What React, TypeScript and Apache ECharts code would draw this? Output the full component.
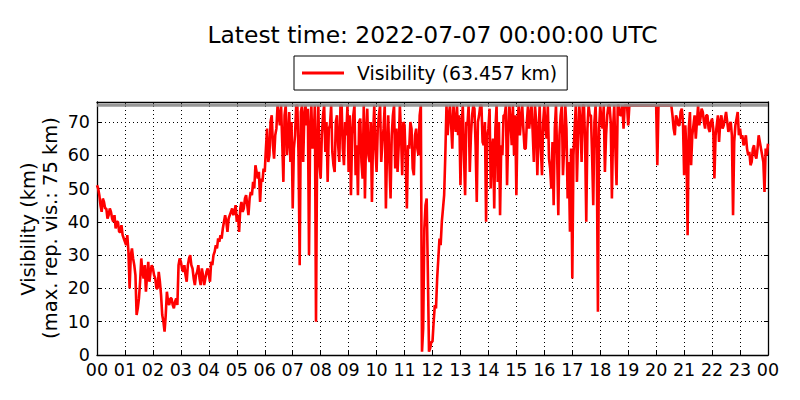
import React, { useEffect, useRef } from "react";
import * as echarts from "echarts";

const titleText = "Latest time: 2022-07-07 00:00:00 UTC";
const seriesName = "Visibility (63.457 km)";
const yNameLine1 = "Visibility (km)";
const yNameLine2 = "(max. rep. vis.: 75 km)";
const maxReported = 75;
const stepMinutes = 2.5;

// one value every 2.5 minutes, one row per hour (00 .. 23), last value = 24:00
const visibility = [
  51, 50, 48, 45, 43, 47, 46, 44, 44, 41, 42, 44, 43, 41, 40, 42, 38, 40, 40, 37, 37, 39, 36, 35,
  34, 33, 36, 31, 20, 30, 32, 29, 27, 24, 12, 14, 17, 22, 29, 25, 23, 27, 19, 24, 28, 22, 25, 27,
  26, 24, 23, 20, 20, 25, 22, 18, 12, 10, 7, 12, 19, 16, 15, 17, 17, 15, 14, 16, 17, 15, 27, 29,
  28, 26, 25, 27, 24, 22, 27, 29, 30, 27, 26, 23, 21, 24, 25, 27, 23, 21, 26, 24, 21, 23, 25, 26,
  24, 22, 28, 27, 30, 31, 33, 32, 35, 34, 36, 35, 38, 40, 42, 40, 37, 41, 42, 43, 44, 42, 43, 45,
  40, 42, 37, 44, 46, 43, 44, 47, 48, 45, 42, 47, 49, 48, 52, 50, 57, 55, 53, 55, 46, 53, 52, 56,
  55, 62, 68, 58, 60, 70, 72, 63, 59, 66, 68, 75, 72, 69, 75, 64, 52, 72, 75, 60, 65, 73, 58, 70,
  44, 62, 66, 75, 75, 60, 27, 73, 75, 58, 72, 75, 69, 74, 30, 68, 75, 62, 65, 75, 10, 64, 75, 57,
  53, 66, 72, 75, 61, 70, 52, 68, 69, 75, 61, 57, 55, 70, 72, 63, 58, 75, 75, 62, 57, 70, 66, 75,
  55, 72, 48, 66, 72, 75, 54, 63, 48, 70, 71, 58, 53, 75, 47, 66, 74, 60, 58, 70, 46, 66, 75, 62,
  55, 68, 72, 75, 58, 64, 68, 75, 44, 62, 72, 58, 47, 66, 72, 75, 56, 68, 55, 63, 75, 66, 54, 70,
  69, 58, 44, 63, 62, 70, 68, 56, 54, 66, 68, 62, 60, 72, 75, 1, 8, 38, 45, 47, 25, 1, 2, 4,
  4, 10, 15, 14, 23, 29, 35, 33, 40, 44, 48, 60, 75, 66, 72, 75, 69, 62, 75, 70, 67, 75, 66, 72,
  51, 68, 75, 60, 48, 70, 69, 75, 55, 66, 72, 75, 74, 63, 46, 70, 72, 75, 75, 64, 63, 70, 40, 66,
  68, 74, 50, 62, 65, 44, 68, 75, 52, 70, 42, 63, 60, 72, 72, 75, 51, 66, 75, 70, 63, 75, 60, 72,
  48, 70, 75, 66, 71, 75, 68, 62, 62, 70, 75, 68, 72, 75, 67, 58, 75, 70, 54, 66, 75, 62, 54, 70,
  75, 68, 65, 75, 59, 56, 50, 64, 45, 68, 75, 60, 42, 66, 72, 75, 54, 62, 75, 68, 47, 58, 37, 62,
  23, 60, 68, 75, 52, 66, 75, 70, 58, 75, 75, 64, 40, 68, 75, 72, 72, 60, 45, 70, 75, 62, 13, 68,
  75, 70, 68, 75, 55, 66, 72, 75, 75, 70, 47, 68, 75, 62, 51, 75, 75, 72, 72, 75, 68, 75, 75, 75,
  69, 75, 75, 75, 75, 75, 75, 75, 75, 75, 75, 75, 75, 75, 75, 75, 75, 75, 75, 75, 75, 75, 75, 75,
  75, 57, 75, 75, 75, 75, 75, 75, 75, 75, 75, 75, 75, 75, 72, 68, 66, 72, 71, 69, 69, 73, 74, 70,
  54, 69, 62, 36, 68, 73, 57, 66, 69, 72, 65, 70, 75, 69, 71, 74, 73, 70, 68, 72, 72, 68, 67, 70,
  71, 68, 53, 66, 69, 72, 64, 70, 72, 68, 69, 71, 73, 70, 67, 69, 70, 66, 42, 64, 69, 71, 73, 66,
  68, 65, 66, 63, 64, 66, 62, 60, 61, 57, 58, 62, 63, 60, 59, 62, 66, 64, 62, 60, 58, 49, 62, 60,
  63.457,
];

const FONT = "DejaVu Sans";
const TICK_FONT = 17.5;

export default function App() {
  const ref = useRef<HTMLDivElement>(null);
  useEffect(() => {
    const chart = echarts.init(ref.current as HTMLDivElement, null, { renderer: "svg" });
    const data = visibility.map((v, i) => [(i * stepMinutes) / 60, v]);
    const fmtHour = (v: number) => {
      const h = Math.round(v) % 24;
      return h < 10 ? "0" + h : String(h);
    };
    const baseAxis = {
      axisLine: { show: true, onZero: false, lineStyle: { color: "#000", width: 1.3 } },
      axisTick: { show: true, inside: true, length: 4, lineStyle: { color: "#000", width: 1 } },
    };
    chart.setOption({
      animation: false,
      backgroundColor: "#fff",
      textStyle: { fontFamily: FONT },
      grid: { left: 97, right: 32, top: 102, bottom: 45 },
      legend: {
        data: [seriesName],
        left: 294,
        top: 56,
        padding: [7.5, 10, 7.5, 8],
        borderColor: "#000",
        borderWidth: 1,
        borderRadius: 0,
        backgroundColor: "#fff",
        icon: "rect",
        itemWidth: 42,
        itemHeight: 3,
        textStyle: { fontFamily: FONT, fontSize: 18.8, color: "#000", padding: [0, 0, 0, 8] },
      },
      xAxis: [
        {
          ...baseAxis,
          type: "value",
          position: "bottom",
          min: 0,
          max: 24,
          interval: 1,
          axisLabel: { fontFamily: FONT, fontSize: TICK_FONT, color: "#000", margin: 6, formatter: fmtHour },
          splitLine: { show: true, lineStyle: { color: "#000", type: [1, 3], width: 1 } },
        },
        {
          ...baseAxis,
          type: "value",
          position: "top",
          min: 0,
          max: 24,
          interval: 1,
          axisLabel: { show: false },
          splitLine: { show: false },
        },
      ],
      yAxis: [
        {
          ...baseAxis,
          type: "value",
          position: "left",
          min: 0,
          max: 76,
          interval: 10,
          axisLabel: {
            fontFamily: FONT,
            fontSize: TICK_FONT,
            color: "#000",
            margin: 7,
            formatter: (v: number) => (v % 10 === 0 ? String(v) : ""),
          },
          splitLine: { show: true, lineStyle: { color: "#000", type: [1, 3], width: 1 } },
        },
        {
          ...baseAxis,
          type: "value",
          position: "right",
          min: 0,
          max: 76,
          interval: 10,
          axisLabel: { show: false },
          splitLine: { show: false },
        },
      ],
      series: [
        {
          name: seriesName,
          type: "line",
          data,
          showSymbol: false,
          symbol: "none",
          color: "#ff0000",
          lineStyle: { color: "#ff0000", width: 2.6 },
        },
        {
          name: "max",
          type: "line",
          data: [
            [0, maxReported],
            [24, maxReported],
          ],
          showSymbol: false,
          symbol: "none",
          silent: true,
          color: "#8c8c8c",
          lineStyle: { color: "#8c8c8c", width: 3, opacity: 0.9 },
        },
      ],
      graphic: [
        {
          type: "text",
          x: 432.5,
          y: 35,
          style: {
            text: titleText,
            fontFamily: FONT,
            fontSize: 23.4,
            fill: "#000",
            textAlign: "center",
            textVerticalAlign: "middle",
          },
        },
        {
          type: "text",
          x: 28,
          y: 229,
          rotation: Math.PI / 2,
          style: {
            text: yNameLine1,
            fontFamily: FONT,
            fontSize: 19.5,
            fill: "#000",
            textAlign: "center",
            textVerticalAlign: "middle",
          },
        },
        {
          type: "text",
          x: 50,
          y: 228,
          rotation: Math.PI / 2,
          style: {
            text: yNameLine2,
            fontFamily: FONT,
            fontSize: 19.5,
            fill: "#000",
            textAlign: "center",
            textVerticalAlign: "middle",
          },
        },
      ],
    });
    return () => chart.dispose();
  }, []);
  return (
    <div
      ref={ref}
      style={{ position: "fixed", left: 0, top: 0, width: 800, height: 400 }}
    />
  );
}
